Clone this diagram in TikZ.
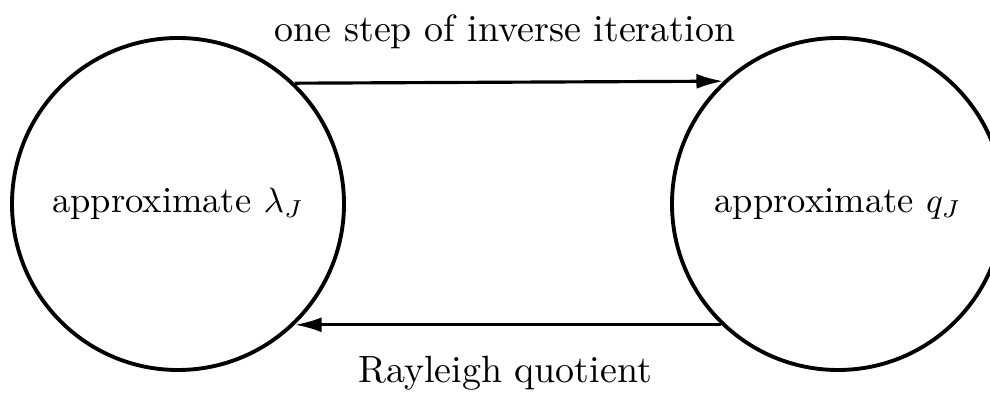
\documentclass[tikz,border=0pt]{standalone}
\usetikzlibrary{arrows.meta}
\begin{document}
\begin{tikzpicture}[
	approx/.style={circle, draw, line width=1.1pt, minimum size=3.32cm, inner sep=0pt,
		font=\fontsize{10.4}{13}\selectfont},
	flow/.style={line width=0.9pt, -{Latex[length=2.7mm, width=1.5mm]}},
	caption/.style={font=\fontsize{10.8}{13}\selectfont, anchor=base}
]
	\clip (0, 0) rectangle (9.9, 3.96);
	\node[approx] (lam) at (1.78, 1.92) {approximate $\lambda_J$};
	\node[approx] (qv) at (8.38, 1.92) {approximate $q_J$};
	\draw[flow] (lam.46.8) -- (qv.133.2);
	\draw[flow] (qv.-134) -- (lam.-46);
	\node[caption] (top) at (5.05, 3.54) {one step of inverse iteration};
	\node[caption] (bot) at (5.05, 0.13) {Rayleigh quotient};
\end{tikzpicture}
\end{document}
